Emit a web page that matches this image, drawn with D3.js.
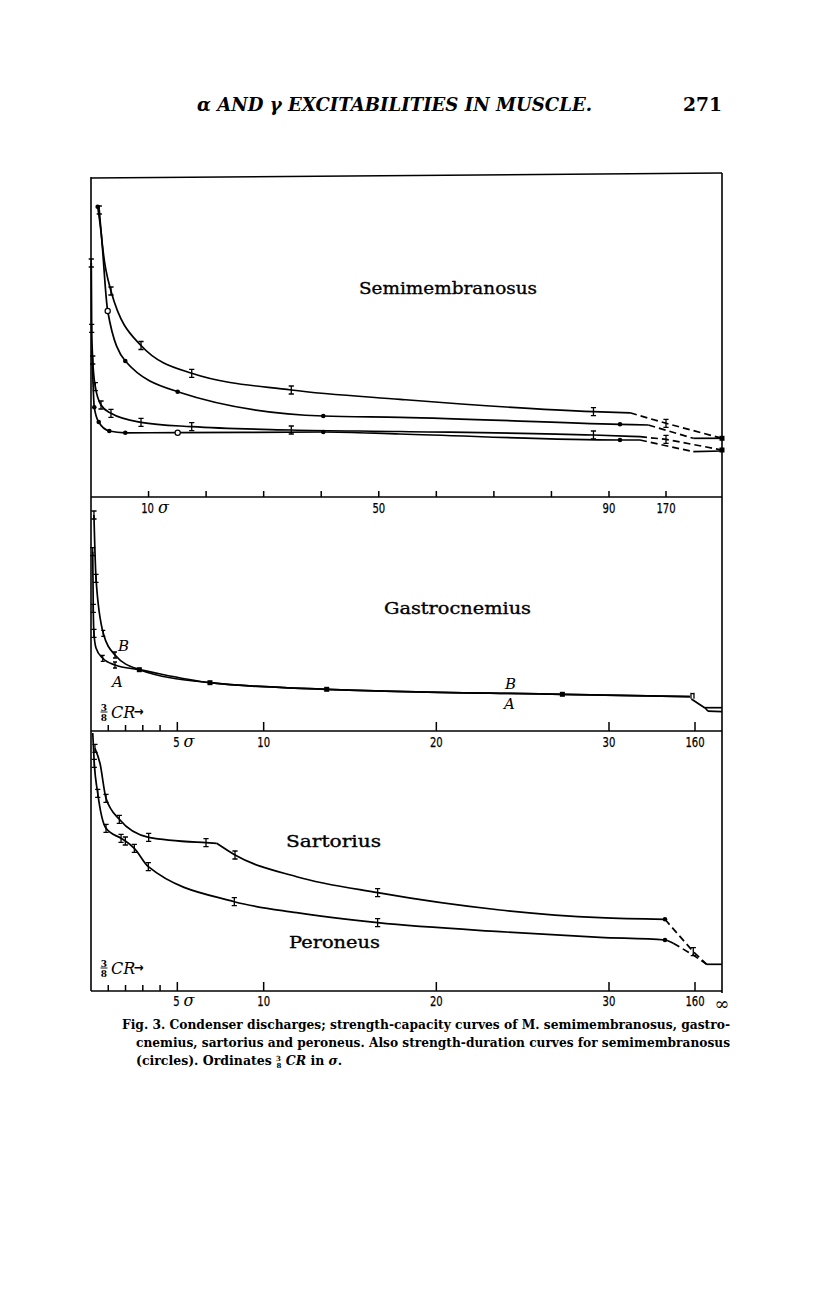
<!DOCTYPE html>
<html><head><meta charset="utf-8">
<script src="https://cdn.jsdelivr.net/npm/d3@7"></script>
<style>body{margin:0;background:#fff}</style>
</head><body>
<svg id="c" width="816" height="1296"></svg>
<script>
// ---------------- DATA ----------------
const semiTicks = [10,20,30,40,50,60,70,80,90,170];
const semiTickLabels = [[10,"10","σ"],[50,"50",""],[90,"90",""],[170,"170",""]];
const lowMinorTicks = [1,2,3,4];
const lowMajorTicks = [5,10,20,30,160];
const lowTickLabels = [[5,"5","σ"],[10,"10",""],[20,"20",""],[30,"30",""],[160,"160",""]];

// Semimembranosus: strength-capacity (I marks) and strength-duration (circles)
const semiCapHi = [
 {x:1.44,y:28.7,m:"I"},{x:1.74,y:26.6},{x:3.47,y:20.6,m:"I"},{x:8.69,y:15.15,m:"I"},
 {x:17.5,y:12.37,m:"I"},{x:34.8,y:10.7,m:"I"},{x:53.7,y:9.77},{x:87.3,y:8.53,m:"I"},{x:119.5,y:8.42}];
const semiCapHiDash = [{x:119.5,y:8.42},{x:170,y:7.37,m:"I"},{x:250,y:5.87,m:"sq"}];
const semiDurHi = [
 {x:1.16,y:29.03,m:"dot"},{x:1.74,y:26.53},{x:2.9,y:18.6,m:"open"},{x:5.96,y:13.6,m:"dot"},
 {x:15.06,y:10.53,m:"dot"},{x:40.36,y:8.1,m:"dot"},{x:53.7,y:7.97},{x:105.4,y:7.27,m:"dot"},{x:145.2,y:7.2}];
const semiDurHiDash = [{x:145.2,y:7.2},{x:209,y:5.87}];
const semiDurHiTail = [{x:209,y:5.87},{x:250,y:5.87}];
const semiCapLo = [
 {x:0.05,y:23.4,m:"I"},{x:0.12,y:16.87,m:"I"},{x:0.3,y:13.7,m:"I"},{x:0.75,y:11.03,m:"I"},
 {x:1.74,y:9.2,m:"I"},{x:3.47,y:8.37,m:"I"},{x:8.69,y:7.47,m:"I"},{x:17.5,y:7.03,m:"I"},
 {x:34.8,y:6.7,m:"I"},{x:53.7,y:6.55},{x:87.3,y:6.2,m:"I"},{x:133.5,y:6.03}];
const semiCapLoDash = [{x:133.5,y:6.03},{x:170,y:5.77,m:"I"},{x:250,y:4.7,m:"sq"}];
const semiDurLo = [
 {x:0.17,y:14.7},{x:0.57,y:8.97,m:"dot"},{x:1.34,y:7.5,m:"dot"},{x:3.18,y:6.6,m:"dot"},
 {x:5.96,y:6.42,m:"dot"},{x:15.06,y:6.43,m:"open"},{x:40.36,y:6.5,m:"dot"},{x:53.7,y:6.3},
 {x:105.4,y:5.7,m:"dot"},{x:133.5,y:5.7}];
const semiDurLoDash = [{x:133.5,y:5.7},{x:209,y:4.53}];
const semiDurLoTail = [{x:209,y:4.53},{x:250,y:4.6}];

// Gastrocnemius curves A and B, joined tail
const gastroB = [{x:0.17,y:21.6,m:"I"},{x:0.29,y:15.27,m:"I"},{x:0.71,y:9.77,m:"x"},{x:1.39,y:7.6,m:"x"},{x:2.8,y:6.13,m:"sq"}];
const gastroA = [{x:0.1,y:17.93,m:"I"},{x:0.13,y:12.27,m:"I"},{x:0.17,y:9.77,m:"I"},{x:0.29,y:8.3},{x:0.68,y:7.27,m:"x"},{x:1.39,y:6.6,m:"x"},{x:2.8,y:6.13}];
const gastroTail = [{x:6.89,y:4.83,m:"sq"},{x:13.65,y:4.17,m:"sq"},{x:27.3,y:3.67,m:"sq"},{x:152.4,y:3.43,m:"n"}];
const gastroDrop = [{x:154.5,y:3.2},{x:174.8,y:2.3}];
const gastroFootTop = [{x:174.8,y:2.33},{x:200,y:2.33}];
const gastroFootBot = [{x:179.3,y:1.98},{x:200,y:1.93}];

// Sartorius and Peroneus
const sartoriusA = [{x:0.23,y:24.27,m:"I"},{x:0.52,y:22.77},{x:0.87,y:19.27,m:"I"},{x:1.64,y:17.17,m:"I"},
 {x:3.34,y:15.37,m:"I"},{x:6.66,y:14.83,m:"I"},{x:7.28,y:14.77}];
const sartoriusB = [{x:7.28,y:14.77},{x:8.34,y:13.6,m:"I"},{x:11.91,y:11.43},{x:16.6,y:9.83,m:"I"},
 {x:23.69,y:8.1},{x:29.48,y:7.33},{x:114.6,y:7.17,m:"dot"}];
const sartoriusDash = [{x:114.6,y:7.17},{x:157.4,y:3.93,m:"I"},{x:177.3,y:2.67}];
const sartoriusTail = [{x:177.3,y:2.67},{x:200,y:2.67}];
const peroneus = [{x:0.1,y:25.8},{x:0.19,y:22.77,m:"I"},{x:0.39,y:19.77,m:"I"},{x:0.87,y:16.27,m:"I"},
 {x:1.74,y:15.27,m:"I"},{x:1.99,y:15.0,m:"I"},{x:2.51,y:14.27,m:"I"},{x:3.32,y:12.43,m:"I"},
 {x:8.3,y:8.93,m:"I"},{x:11.91,y:7.83},{x:16.6,y:6.83,m:"I"},{x:23.69,y:5.93},{x:29.48,y:5.37},
 {x:114.6,y:5.1,m:"dot"},{x:127.2,y:4.77}];
const peroneusDash = [{x:127.2,y:4.77},{x:157.4,y:3.6},{x:177.3,y:2.67}];

// ---------------- DRAWING ----------------
const svg = d3.select("#c");
const serif = "'DejaVu Serif', 'Liberation Serif', serif";
const cond = "'DejaVu Sans Condensed', 'DejaVu Sans', sans-serif";

const L = 91, R = 722, T1 = 177, B1 = 497, B2 = 731, B3 = 991;
const x1 = d3.scaleLinear().domain([0,90,170,250]).range([L,609,666,R]);
const y1 = d3.scaleLinear().domain([0,32]).range([B1,T1]);
const x2 = d3.scaleLinear().domain([0,30,160,200]).range([L,609,695,R]);
const y2 = d3.scaleLinear().domain([0,23.4]).range([B2,B1]);
const x3 = x2.copy();
const y3 = d3.scaleLinear().domain([0,26]).range([B3,B2]);

// header
svg.append("text").attr("x",197).attr("y",111).attr("font-family",serif).attr("font-style","italic")
 .attr("font-weight","bold").attr("font-size",18).attr("textLength",395).attr("lengthAdjust","spacingAndGlyphs")
 .text("α AND γ EXCITABILITIES IN MUSCLE.");
svg.append("text").attr("x",722).attr("y",111).attr("text-anchor","end").attr("font-family",serif)
 .attr("font-weight","bold").attr("font-size",19).attr("textLength",39).attr("lengthAdjust","spacingAndGlyphs").text("271");

// frame
const frame = svg.append("g").attr("stroke","#000").attr("fill","none").attr("stroke-width",1.6);
frame.append("line").attr("x1",L).attr("y1",178).attr("x2",R).attr("y2",173);
frame.append("line").attr("x1",L).attr("y1",177).attr("x2",L).attr("y2",B3);
frame.append("line").attr("x1",R).attr("y1",173).attr("x2",R).attr("y2",B3+2);
[B1,B2,B3].forEach(b=>frame.append("line").attr("x1",L).attr("y1",b).attr("x2",R).attr("y2",b));

// ticks
function ticks(xs, vals, base, len){
  vals.forEach(v=>svg.append("line").attr("x1",xs(v)).attr("x2",xs(v)).attr("y1",base).attr("y2",base-len)
   .attr("stroke","#000").attr("stroke-width",1.5));
}
ticks(x1, semiTicks, B1, 6);
ticks(x2, lowMinorTicks, B2, 6); ticks(x2, lowMajorTicks, B2, 9);
ticks(x3, lowMinorTicks, B3, 6); ticks(x3, lowMajorTicks, B3, 9);

function tickLabels(xs, labels, yb){
  labels.forEach(([v,s,suf])=>{
    const w = s.length*6.4;
    const x0 = suf ? xs(v)-w/2-1 : xs(v)-w/2;
    svg.append("text").attr("x",x0).attr("y",yb).attr("font-family",cond).attr("font-size",14)
      .attr("stroke","#000").attr("stroke-width",0.25)
      .attr("textLength",w).attr("lengthAdjust","spacingAndGlyphs").text(s);
    if(suf){
      svg.append("text").attr("x",xs(v)+w/2+3).attr("y",yb).attr("font-family",serif).attr("font-style","italic")
        .attr("font-size",16).text(suf);
    }
  });
}
tickLabels(x1, semiTickLabels, 513);
tickLabels(x2, lowTickLabels, 747);
tickLabels(x3, lowTickLabels, 1006);
svg.append("text").attr("x",722).attr("y",1010).attr("text-anchor","middle").attr("font-family",serif)
 .attr("font-size",18).text("∞");

// curves
const curvesG = svg.append("g").attr("fill","none").attr("stroke","#000").attr("stroke-width",1.7);
function draw(xs, ys, data, opt={}){
  const gen = d3.line().x(d=>xs(d.x)).y(d=>ys(d.y)).curve(opt.linear ? d3.curveLinear : d3.curveMonotoneX);
  const p = curvesG.append("path").attr("d", gen(data));
  if(opt.dash) p.attr("stroke-dasharray","7,4");
  data.filter(d=>d.m).forEach(d=>marker(xs(d.x), ys(d.y), d.m));
}
const mg = svg.append("g");
function marker(px, py, m){
  if(m==="I" || m==="x"){
    const h = m==="I"?4:3, w = m==="I"?2.6:2;
    mg.append("path").attr("d",`M${px},${py-h}V${py+h}M${px-w},${py-h}H${px+w}M${px-w},${py+h}H${px+w}`)
      .attr("stroke","#000").attr("stroke-width",1.3).attr("fill","none");
  } else if(m==="dot"){
    mg.append("circle").attr("cx",px).attr("cy",py).attr("r",2.3).attr("fill","#000");
  } else if(m==="open"){
    mg.append("circle").attr("cx",px).attr("cy",py).attr("r",2.6).attr("fill","#fff").attr("stroke","#000").attr("stroke-width",1.2);
  } else if(m==="sq"){
    mg.append("rect").attr("x",px-2.5).attr("y",py-2.5).attr("width",5).attr("height",5).attr("fill","#000");
  } else if(m==="n"){
    mg.append("path").attr("d",`M${px+1},${py-4}V${py+2}M${px+4},${py-4}V${py+2}M${px+1},${py-3}H${px+4}`)
      .attr("stroke","#000").attr("stroke-width",1.3).attr("fill","none");
  }
}

draw(x1,y1,semiCapHi); draw(x1,y1,semiCapHiDash,{dash:1,linear:1});
draw(x1,y1,semiDurHi); draw(x1,y1,semiDurHiDash,{dash:1,linear:1}); draw(x1,y1,semiDurHiTail,{linear:1});
draw(x1,y1,semiCapLo); draw(x1,y1,semiCapLoDash,{dash:1,linear:1});
draw(x1,y1,semiDurLo); draw(x1,y1,semiDurLoDash,{dash:1,linear:1}); draw(x1,y1,semiDurLoTail,{linear:1});

draw(x2,y2,gastroB.concat(gastroTail));
draw(x2,y2,gastroA.concat(gastroTail.map(d=>({x:d.x,y:d.y}))));
draw(x2,y2,gastroDrop,{linear:1});
draw(x2,y2,gastroFootTop,{linear:1}); draw(x2,y2,gastroFootBot,{linear:1});
draw(x2,y2,[gastroFootTop[0],gastroFootBot[0]],{linear:1});

draw(x3,y3,sartoriusA); draw(x3,y3,sartoriusB);
draw(x3,y3,sartoriusDash,{dash:1,linear:1}); draw(x3,y3,sartoriusTail,{linear:1});
draw(x3,y3,peroneus); draw(x3,y3,peroneusDash,{dash:1,linear:1});

// panel titles
function title(s, x, y, w){
  svg.append("text").attr("x",x).attr("y",y).attr("font-family",serif).attr("font-size",17)
   .attr("stroke","#000").attr("stroke-width",0.35)
   .attr("textLength",w).attr("lengthAdjust","spacingAndGlyphs").text(s);
}
title("Semimembranosus",359,294,178);
title("Gastrocnemius",384,614,147);
title("Sartorius",286,847,95);
title("Peroneus",289,948,91);

function ital(s,x,y,size){
  svg.append("text").attr("x",x).attr("y",y).attr("font-family",serif).attr("font-style","italic")
   .attr("font-size",size).text(s);
}
ital("B",118,651,15); ital("A",112,687,15);
ital("B",505,689,15); ital("A",504,709,15);

// 3/8 CR ->
function frac(x, yMid, size){
  svg.append("text").attr("x",x).attr("y",yMid-1.2).attr("text-anchor","middle").attr("font-family",serif)
   .attr("font-weight","bold").attr("font-size",size).text("3");
  svg.append("text").attr("x",x).attr("y",yMid+size-0.5).attr("text-anchor","middle").attr("font-family",serif)
   .attr("font-weight","bold").attr("font-size",size).text("8");
  svg.append("line").attr("x1",x-3.5).attr("x2",x+3.5).attr("y1",yMid).attr("y2",yMid).attr("stroke","#000").attr("stroke-width",0.9);
}
function crLabel(x,yMid){
  frac(x+4,yMid,9);
  ital("CR",x+11,yMid+6,16);
  svg.append("text").attr("x",x+34).attr("y",yMid+4).attr("font-family",cond).attr("font-weight","bold").attr("font-size",13).text("→");
}
crLabel(100,712);
crLabel(100,968);

// caption
const cap = svg.append("g").attr("font-family",serif).attr("font-size",12.5).attr("font-weight","bold");
cap.append("text").attr("x",122).attr("y",1029).attr("textLength",608).attr("lengthAdjust","spacingAndGlyphs")
 .text("Fig. 3.  Condenser discharges; strength-capacity curves of M. semimembranosus, gastro-");
cap.append("text").attr("x",136).attr("y",1047).attr("textLength",594).attr("lengthAdjust","spacingAndGlyphs")
 .text("cnemius, sartorius and peroneus.  Also strength-duration curves for semimembranosus");
const l3 = cap.append("text").attr("x",136).attr("y",1065);
l3.append("tspan").text("(circles).  Ordinates ");
l3.append("tspan").attr("font-size",7).attr("dy",-4).text("3");
l3.append("tspan").attr("font-size",7).attr("dx",-4.5).attr("dy",7).text("8");
l3.append("tspan").attr("dy",-3).text(" ");
l3.append("tspan").attr("font-style","italic").text("CR");
l3.append("tspan").text(" in ");
l3.append("tspan").attr("font-style","italic").text("σ");
l3.append("tspan").text(".");
</script>
</body></html>
